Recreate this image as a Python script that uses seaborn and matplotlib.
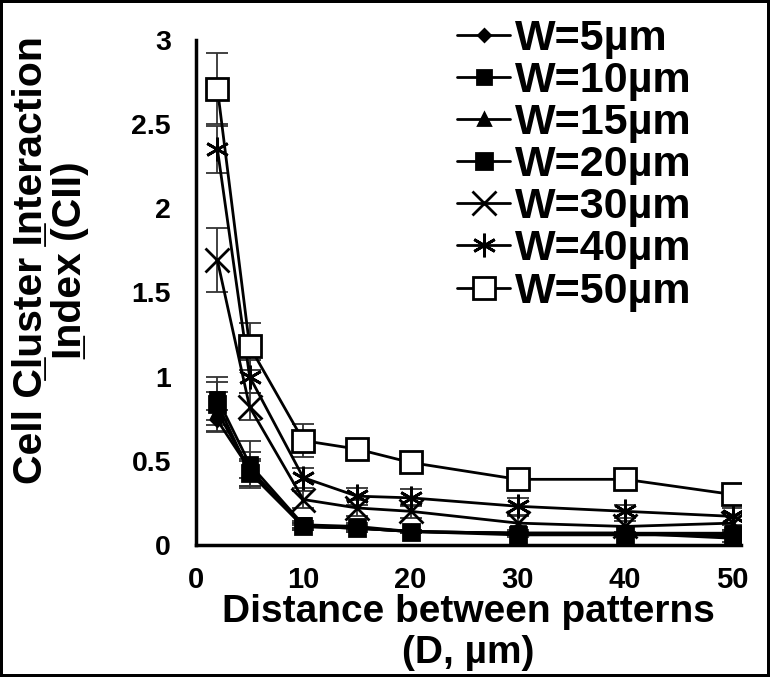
import pandas as pd
import seaborn as sns
import matplotlib.pyplot as plt

# distance between patterns (D, um)
distance = [2, 5, 10, 15, 20, 30, 40, 50]

series_names = ['W=5µm', 'W=10µm', 'W=15µm', 'W=20µm', 'W=30µm', 'W=40µm', 'W=50µm']

cii_w5 = [0.74, 0.45, 0.11, 0.10, 0.08, 0.07, 0.07, 0.05]
cii_w10 = [0.87, 0.48, 0.12, 0.11, 0.08, 0.07, 0.07, 0.07]
cii_w15 = [0.79, 0.45, 0.11, 0.10, 0.08, 0.07, 0.07, 0.04]
cii_w20 = [0.84, 0.43, 0.11, 0.10, 0.08, 0.06, 0.06, 0.06]
cii_w30 = [1.69, 0.82, 0.27, 0.22, 0.20, 0.13, 0.11, 0.13]
cii_w40 = [2.35, 1.00, 0.40, 0.29, 0.28, 0.23, 0.20, 0.17]
cii_w50 = [2.71, 1.18, 0.62, 0.57, 0.49, 0.39, 0.39, 0.30]

err_w5 = [0.06, 0.05, 0.01, 0.01, 0.01, 0.01, 0.01, 0.01]
err_w10 = [0.13, 0.14, 0.02, 0.02, 0.01, 0.01, 0.01, 0.02]
err_w15 = [0.12, 0.10, 0.02, 0.02, 0.01, 0.01, 0.01, 0.02]
err_w20 = [0.13, 0.08, 0.02, 0.02, 0.01, 0.01, 0.01, 0.02]
err_w30 = [0.19, 0.08, 0.05, 0.05, 0.04, 0.04, 0.03, 0.04]
err_w40 = [0.14, 0.10, 0.06, 0.05, 0.05, 0.05, 0.04, 0.05]
err_w50 = [0.21, 0.14, 0.10, 0.04, 0.03, 0.04, 0.03, 0.05]

y_ticks = [0, 0.5, 1, 1.5, 2, 2.5, 3]
y_tick_labels = ['0', '0.5', '1', '1.5', '2', '2.5', '3']
x_ticks = [0, 10, 20, 30, 40, 50]

values = [cii_w5, cii_w10, cii_w15, cii_w20, cii_w30, cii_w40, cii_w50]
errors = [err_w5, err_w10, err_w15, err_w20, err_w30, err_w40, err_w50]

df = pd.concat([
    pd.DataFrame({'D': distance, 'CII': v, 'err': e, 'W': name})
    for name, v, e in zip(series_names, values, errors)
])

sns.set_style('white')
plt.rcParams['font.family'] = ['Liberation Sans', 'DejaVu Sans']
plt.rcParams['font.weight'] = 'bold'
plt.rcParams['text.color'] = 'black'
plt.rcParams['axes.labelcolor'] = 'black'

fig = plt.figure(figsize=(7.7, 6.77), dpi=100)
fig.patch.set_edgecolor('black')
fig.patch.set_linewidth(3)
ax = fig.add_axes([0.2545, 0.195, 0.708, 0.746])

markers = {
    'W=5µm': 'D', 'W=10µm': 's', 'W=15µm': '^', 'W=20µm': 's',
    'W=30µm': 'x', 'W=40µm': (6, 2, 0), 'W=50µm': 's',
}
sizes = {'W=5µm': 6, 'W=10µm': 10, 'W=15µm': 8, 'W=20µm': 11,
         'W=30µm': 17, 'W=40µm': 17, 'W=50µm': 16}

# error bars first, thin grey-black with caps
for name, g in df.groupby('W', sort=False):
    ax.errorbar(g['D'], g['CII'], yerr=g['err'], fmt='none', ecolor='#333333',
                elinewidth=1.3, capsize=8, capthick=1.3, zorder=1)

for name, g in df.groupby('W', sort=False):
    face = 'white' if name == 'W=50µm' else 'black'
    sns.lineplot(data=g, x='D', y='CII', ax=ax, color='black', lw=2,
                 marker=markers[name], markersize=sizes[name],
                 markerfacecolor=face, markeredgecolor='black', markeredgewidth=2,
                 label=name, zorder=3)

ax.set_xlim(0, 50.8)
ax.set_ylim(0, 3)
ax.set_xticks(x_ticks)
ax.set_xticklabels([str(t) for t in x_ticks])
ax.set_yticks(y_ticks)
ax.set_yticklabels(y_tick_labels)
ax.tick_params(axis='both', direction='out', length=9, width=2, color='black',
               pad=6, labelsize=21, labelcolor='black')
ax.tick_params(axis='y', length=12, labelsize=20.5)
for s in ['top', 'right']:
    ax.spines[s].set_visible(False)
for s in ['left', 'bottom']:
    ax.spines[s].set_linewidth(2.5)
    ax.spines[s].set_color('black')

ax.set_xlabel('Distance between patterns\n(D, µm)', fontsize=28, fontweight='bold',
              linespacing=1.2, labelpad=0)
ax.set_ylabel('Cell C\u0332luster I\u0332nteraction\nI\u0332ndex (CII)',
              fontsize=29.5, fontweight='bold', linespacing=1.05)
ax.yaxis.set_label_coords(-0.195, 0.564)

leg = ax.legend(loc='upper right', bbox_to_anchor=(0.91, 1.042), frameon=False,
                fontsize=31, handlelength=1.23, handletextpad=0.12, labelspacing=0.05,
                borderpad=0, borderaxespad=0)
for t in leg.get_texts():
    t.set_fontweight('bold')
    t.set_color('black')

fig.savefig('out.png', dpi=100)
